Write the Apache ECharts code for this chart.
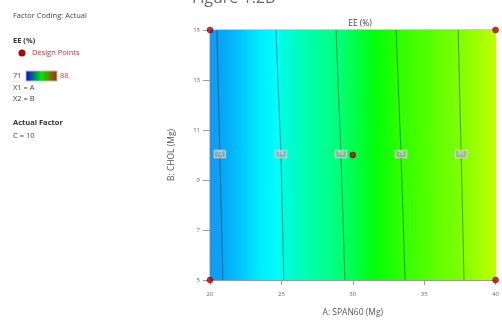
<!DOCTYPE html>
<html><head><meta charset="utf-8">
<script src="https://cdn.jsdelivr.net/npm/echarts@6/dist/echarts.min.js"></script>
<style>html,body{margin:0;padding:0;background:#fff}#c{width:502px;height:322px}</style>
</head><body><div id="c"></div>
<script>
// ---- data ----
const xTicks = [20, 25, 30, 35, 40];
const yTicks = [5, 7, 9, 11, 13, 15];
// response (EE %) sampled along factor A (surface is almost independent of B)
const surfX = [20, 20.7, 22, 23.5, 24.8, 25, 27, 29.2, 31.5, 33.4, 35.5, 37.6, 40];
const surfEE = [71.7, 72, 72.6, 73.3, 73.6, 74, 75, 76, 77.1, 78, 79, 80, 81.1];
// contour lines: [A at B=15, A at B=10, A at B=5]
const contourLevels = [72, 74, 76, 78, 80];
const contourTop = [20.48, 24.62, 28.83, 33.03, 37.38];
const contourMid = [20.69, 24.97, 29.17, 33.38, 37.59];
const contourBot = [20.90, 25.17, 29.45, 33.66, 37.79];
const designPoints = [[20, 15], [40, 15], [20, 5], [40, 5], [30, 10]];
const eeRange = [71, 88];

// colour map (value -> colour) matching the picture
const cmapV = [71.7, 72.0, 72.6, 73.3, 73.6, 74, 75, 76, 77.1, 78, 80, 81.1];
const cmapC = ['#1a98ee', '#0aa2f8', '#00c2ff', '#00eeff', '#00ffff', '#00fae2', '#00ffa8', '#00ff70', '#00ff08', '#30ff00', '#80ff00', '#c0ff00'];
function hex(c){return [parseInt(c.substr(1,2),16),parseInt(c.substr(3,2),16),parseInt(c.substr(5,2),16)];}
function colorOf(v){
  if (v <= cmapV[0]) return cmapC[0];
  for (let i = 0; i < cmapV.length - 1; i++) {
    if (v <= cmapV[i+1]) {
      const t = (v - cmapV[i]) / (cmapV[i+1] - cmapV[i]);
      const a = hex(cmapC[i]), b = hex(cmapC[i+1]);
      return 'rgb(' + a.map((x,k)=>Math.round(x + (b[k]-x)*t)).join(',') + ')';
    }
  }
  return cmapC[cmapC.length-1];
}

const chart = echarts.init(document.getElementById('c'));
const F = 'Open Sans, Noto Sans, sans-serif';
const series = [];
series.push({
  type: 'custom', silent: true, z: 1,
  data: surfX.slice(0, -1).map((x, i) => [x, surfX[i+1], surfEE[i], surfEE[i+1]]),
  renderItem: function (params, api) {
    const p0 = api.coord([api.value(0), 15]);
    const p1 = api.coord([api.value(1), 5]);
    return {
      type: 'rect',
      shape: {x: p0[0], y: p0[1], width: p1[0] - p0[0] + 0.6, height: p1[1] - p0[1]},
      style: {fill: new echarts.graphic.LinearGradient(0, 0, 1, 0, [
        {offset: 0, color: colorOf(api.value(2))},
        {offset: 1, color: colorOf(api.value(3))}])}
    };
  }
});
contourLevels.forEach((lv, i) => {
  series.push({
    type: 'line', z: 3, symbol: 'none', silent: true,
    data: [[contourTop[i], 15], [contourMid[i], 10.04], [contourBot[i], 5]],
    lineStyle: {color: 'rgba(30,60,40,0.5)', width: 1}
  });
});
series.push({
  type: 'scatter', z: 4, symbolSize: 0, silent: true,
  data: contourLevels.map((lv, i) => [contourMid[i], 10.04, lv]),
  label: {show: true, position: 'inside', formatter: p => p.value[2], fontSize: 5, color: '#fff',
    fontFamily: F, backgroundColor: '#a8a8a8', borderColor: '#e8e8e8', borderWidth: 0.8, padding: [1, 2.5]}
});
series.push({
  type: 'scatter', z: 5, symbolSize: 6, clip: false, silent: true,
  data: designPoints,
  itemStyle: {color: '#b80000', borderColor: '#700000', borderWidth: 0.6}
});

chart.setOption({
  animation: false,
  backgroundColor: '#fff',
  grid: {left: 210, right: 2, top: 30, bottom: 40, show: true, borderColor: '#9a9a9a', borderWidth: 1, backgroundColor: 'transparent'},
  title: {text: 'EE (%)', left: 355, top: 14, textAlign: 'center',
    textStyle: {fontSize: 8.5, fontWeight: 'normal', color: '#444', fontFamily: F}},
  xAxis: {type: 'value', min: 20, max: 40, interval: 5,
    name: 'A: SPAN60 (Mg)', nameLocation: 'middle', nameGap: 28,
    nameTextStyle: {fontSize: 8.5, color: '#555', fontFamily: F},
    axisLine: {show: true, lineStyle: {color: '#999'}},
    axisTick: {show: true, length: 5, lineStyle: {color: '#999'}},
    axisLabel: {fontSize: 6, color: '#666', margin: 11, fontFamily: F, formatter: v => xTicks.includes(v) ? v : ''},
    splitLine: {show: false}},
  yAxis: {type: 'value', min: 5, max: 15, interval: 2,
    name: 'B: CHOL (Mg)', nameLocation: 'middle', nameGap: 34,
    nameTextStyle: {fontSize: 8.5, color: '#555', fontFamily: F},
    axisLine: {show: true, lineStyle: {color: '#999'}},
    axisTick: {show: true, length: 7, lineStyle: {color: '#999'}},
    axisLabel: {fontSize: 6, color: '#666', margin: 10, fontFamily: F, formatter: v => yTicks.includes(v) ? v : ''},
    splitLine: {show: false}},
  graphic: [
    {type: 'text', left: 192, top: -10, style: {text: 'Figure 1.2B', fontSize: 16, fill: '#6a6a6a', fontFamily: F}},
    {type: 'text', left: 13, top: 12, style: {text: 'Factor Coding: Actual', fontSize: 7.5, fill: '#444', fontFamily: F}},
    {type: 'text', left: 13, top: 37, style: {text: 'EE (%)', fontSize: 7.5, fontWeight: 'bold', fill: '#333', fontFamily: F}},
    {type: 'circle', shape: {cx: 22, cy: 53, r: 3.5}, style: {fill: '#b00000'}},
    {type: 'text', left: 32, top: 48.5, style: {text: 'Design Points', fontSize: 7.5, fill: '#c03030', fontFamily: F}},
    {type: 'text', left: 13, top: 71.5, style: {text: String(eeRange[0]), fontSize: 7.5, fill: '#3333ee', fontFamily: F}},
    {type: 'rect', shape: {x: 26, y: 71, width: 31, height: 10}, style: {stroke: '#bbb', lineWidth: 1,
      fill: new echarts.graphic.LinearGradient(0, 0, 1, 0, [
        {offset: 0, color: '#0000f0'}, {offset: 0.5, color: '#00e800'}, {offset: 1, color: '#c02000'}])}},
    {type: 'text', left: 60, top: 71.5, style: {text: String(eeRange[1]), fontSize: 7.5, fill: '#ee3333', fontFamily: F}},
    {type: 'text', left: 13, top: 83.5, style: {text: 'X1 = A', fontSize: 7.5, fill: '#444', fontFamily: F}},
    {type: 'text', left: 13, top: 94.5, style: {text: 'X2 = B', fontSize: 7.5, fill: '#444', fontFamily: F}},
    {type: 'text', left: 13, top: 118.5, style: {text: 'Actual Factor', fontSize: 7.5, fontWeight: 'bold', fill: '#333', fontFamily: F}},
    {type: 'text', left: 13, top: 131.5, style: {text: 'C = 10', fontSize: 7.5, fill: '#444', fontFamily: F}}
  ],
  series: series
});
</script></body></html>
